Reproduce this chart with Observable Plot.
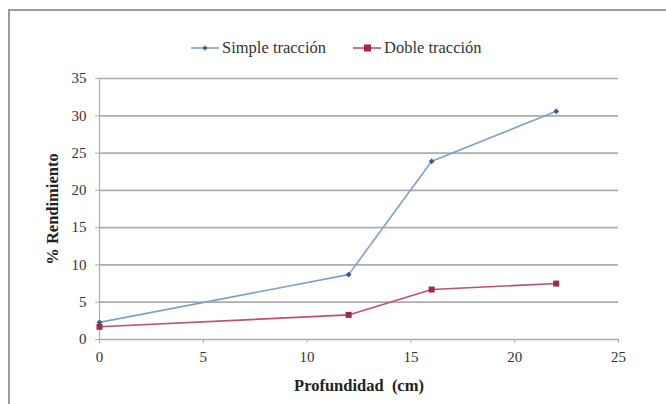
<!DOCTYPE html>
<html>
<head>
<meta charset="utf-8">
<script src="https://cdn.jsdelivr.net/npm/d3@7"></script>
<script src="https://cdn.jsdelivr.net/npm/@observablehq/plot@0.6"></script>
<style>
  html, body { margin: 0; padding: 0; background: #fff; }
  #wrap { position: relative; width: 666px; height: 404px; overflow: hidden; font-family: "Liberation Serif", "DejaVu Serif", serif; }
  #frame { position: absolute; left: 8px; top: 9px; width: 700px; height: 420px; border: 2px solid #9a9a9a; box-sizing: border-box; }
  #legend { position: absolute; left: 190px; top: 37px; height: 22px; display: flex; align-items: center; gap: 26px; font-size: 16.5px; color: #333; white-space: nowrap; }
  #legend .item { display: flex; align-items: center; gap: 2px; }
  #chart { position: absolute; left: 0; top: 60px; }
</style>
</head>
<body>
<div id="wrap">
  <div id="frame"></div>
  <div id="legend"></div>
  <div id="chart"></div>
</div>
<script>
// Depth (cm) and yield (%) per traction type
const depth = [0, 12, 16, 22];
const simple = [2.3, 8.7, 23.9, 30.6];
const doble = [1.7, 3.3, 6.7, 7.5];
const seriesNames = ["Simple tracción", "Doble tracción"];
const xTicks = [0, 5, 10, 15, 20, 25];
const yTicks = [0, 5, 10, 15, 20, 25, 30, 35];
const xLabel = "Profundidad  (cm)";
const yLabel = "% Rendimiento";

const lineColors = ["#7f9fcb", "#c0506e"];
const markColors = ["#3b5a8c", "#a02848"];
const symbols = ["diamond2", "square"];
const serif = "'Liberation Serif', 'DejaVu Serif', serif";

const rows = [];
depth.forEach((d, i) => {
  rows.push({ serie: seriesNames[0], depth: d, value: simple[i] });
  rows.push({ serie: seriesNames[1], depth: d, value: doble[i] });
});

const chart = Plot.plot({
  width: 666,
  height: 344,
  marginLeft: 99,
  marginRight: 48,
  marginTop: 18,
  marginBottom: 65,
  style: { fontFamily: serif, fontSize: "15px", color: "#333", background: "transparent" },
  x: { domain: [0, 25], ticks: xTicks },
  y: { domain: [0, 35], ticks: yTicks },
  color: { domain: seriesNames, range: lineColors },
  symbol: { domain: seriesNames, range: symbols },
  marks: [
    Plot.gridY(yTicks, { stroke: "#acacac", strokeOpacity: 1, strokeWidth: 1.7 }),
    Plot.ruleX([0], { stroke: "#acacac", strokeWidth: 1.2 }),
    Plot.axisX({ ticks: xTicks, tickSize: 4, tickPadding: 8, stroke: "#acacac", label: null, fontSize: 15, fontFamily: serif }),
    Plot.axisY({ ticks: yTicks, tickSize: 4, tickPadding: 9, stroke: "#acacac", label: null, fontSize: 15, fontFamily: serif }),
    Plot.line(rows, { x: "depth", y: "value", z: "serie", stroke: "serie", strokeWidth: 1.6 }),
    Plot.dot(rows.filter(r => r.serie === seriesNames[0]), { x: "depth", y: "value", symbol: "serie", fill: markColors[0], r: 2.6 }),
    Plot.dot(rows.filter(r => r.serie === seriesNames[1]), { x: "depth", y: "value", symbol: "serie", fill: markColors[1], r: 3.4 }),
    Plot.text([yLabel], { frameAnchor: "left", textAnchor: "middle", lineAnchor: "middle", dx: -47, rotate: -90, fontWeight: "bold", fontSize: 16.5, fontFamily: serif, fill: "#222" }),
    Plot.text([xLabel], { frameAnchor: "bottom", textAnchor: "middle", lineAnchor: "middle", dy: 46, fontWeight: "bold", fontSize: 16.5, fontFamily: serif, fill: "#222" })
  ]
});
document.getElementById("chart").appendChild(chart);

// Legend entries
const legend = d3.select("#legend");
seriesNames.forEach((name, i) => {
  const item = legend.append("div").attr("class", "item");
  const sw = item.append("svg").attr("width", 30).attr("height", 10);
  sw.append("line").attr("x1", 1).attr("x2", 29).attr("y1", 5).attr("y2", 5)
    .attr("stroke", lineColors[i]).attr("stroke-width", 1.6);
  if (i === 0) {
    sw.append("path").attr("d", "M15,2.5L17.5,5L15,7.5L12.5,5Z").attr("fill", markColors[0]);
  } else {
    sw.append("rect").attr("x", 12).attr("y", 1.5).attr("width", 7).attr("height", 7).attr("fill", markColors[1]);
  }
  item.append("span").text(name);
});
</script>
</body>
</html>
